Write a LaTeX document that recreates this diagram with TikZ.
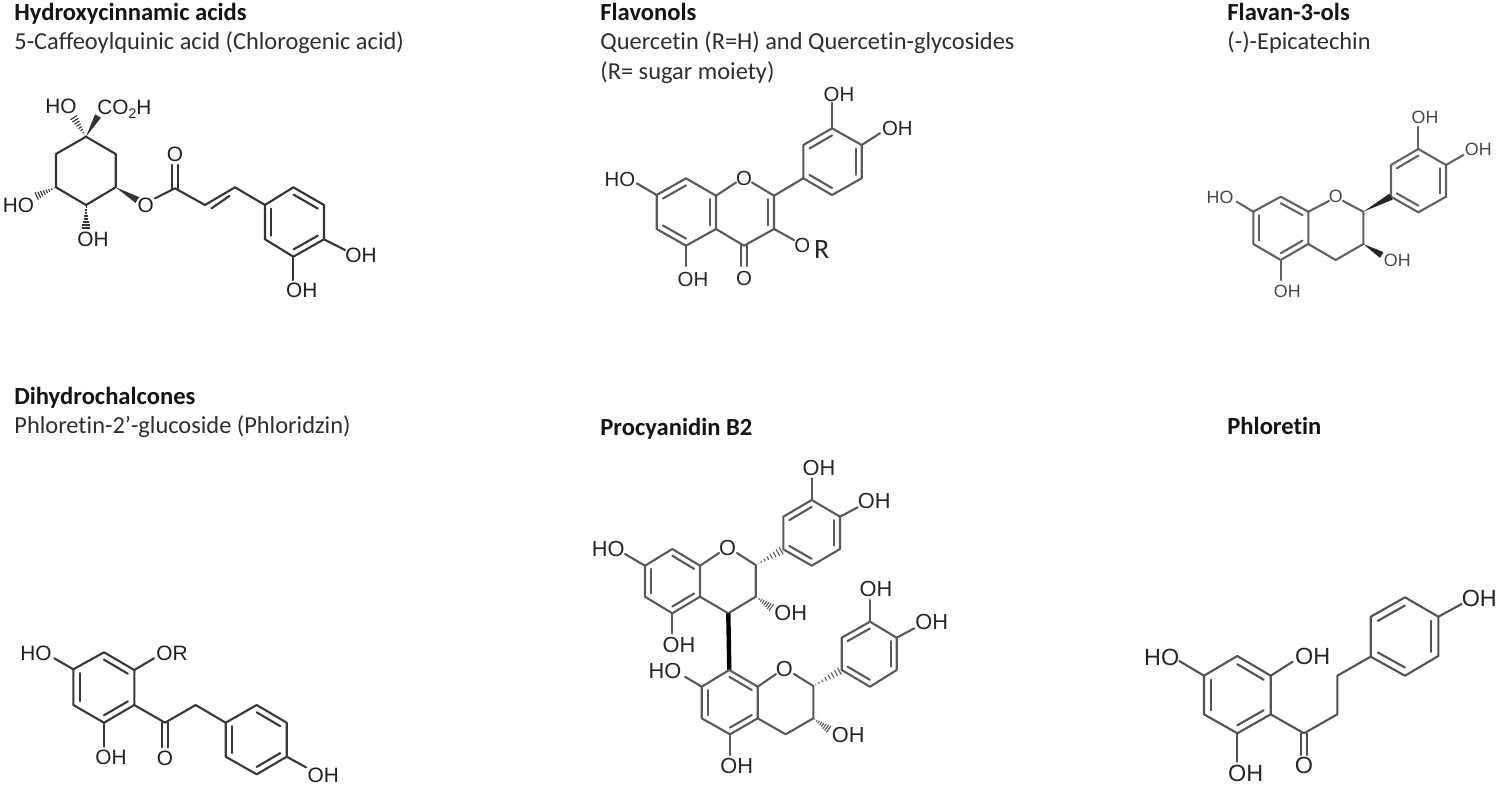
\documentclass[tikz,border=0pt]{standalone}
\usepackage{fontspec}
\setmainfont{Carlito}[Ligatures=NoCommon]
\newfontfamily\chemf{Liberation Sans}
\usetikzlibrary{calc}
\newcommand\labsz{\fontsize{10.4}{12}\selectfont}
\colorlet{bc}{black}
\colorlet{tc}{black}
\tikzset{
  bond/.style={draw=bc,line width=1.05pt,line join=round,line cap=round},
  lab/.style={inner sep=0pt,text depth=0pt,font=\chemf\labsz,text=tc},
  title/.style={inner sep=0pt,anchor=base west,font=\fontsize{12.3}{14}\selectfont\bfseries,text=black!92},
  sub/.style={inner sep=0pt,anchor=base west,font=\fontsize{12.2}{14}\selectfont,text=black!82}
}
\newcommand\pts[1]{\foreach \n/\x/\y in {#1}{\coordinate (\n) at (\x,\y);}}
\newcommand\labs[1]{\foreach \n/\x/\y/\t in {#1}{\node[lab] (\n) at (\x,\y) {\t};}}
\newcommand\bnds[1]{\foreach \a/\b in {#1}{\draw[bond] (\a) -- (\b);}}
\newcommand\dbl[3]{\draw[bond] ($(#1)!.21!(#3)$) -- ($(#2)!.21!(#3)$);}
\newcommand\wdg[2]{\fill[bc] (#1) -- ($(#2)!1.7pt!90:(#1)$) -- ($(#2)!1.7pt!-90:(#1)$) -- cycle;}
\newcommand\hsh[2]{\foreach \t [evaluate=\t as \w using \t*2.2] in {.08,.2,.32,.44,.56,.68,.8,.92}{%
  \coordinate (hp) at ($(#1)!\t!(#2)$);
  \draw[bc,line width=.55pt] ($(hp)!\w pt!90:(#2)$) -- ($(hp)!\w pt!-90:(#2)$);}}
\begin{document}
\begin{tikzpicture}[x=.5pt,y=-.5pt]
\useasboundingbox (0,0) rectangle (1500,787);

% ---- captions
\node[title] (t1) at (14,20) {Hydroxycinnamic acids};
\node[sub] (s1) at (14,49) {5-Caffeoylquinic acid (Chlorogenic acid)};
\node[title] (t2) at (600,20) {Flavonols};
\node[sub] (s2) at (600,49) {Quercetin (R=H) and Quercetin-glycosides};
\node[sub] (s2b) at (600,79) {(R= sugar moiety)};
\node[title] (t3) at (1227,20) {Flavan-3-ols};
\node[sub] (s3) at (1227,49) {(-)-Epicatechin};
\node[title] (t4) at (14,404) {Dihydrochalcones};
\node[sub] (s4) at (14,433) {Phloretin-2’-glucoside (Phloridzin)};
\node[title] (t5) at (600,435) {Procyanidin B2};
\node[title] (t6) at (1227,434) {Phloretin};

% ---- chlorogenic acid
\begin{scope}
\colorlet{bc}{black!80}\colorlet{tc}{black!88}
\pts{a1/86/136.7,a2/115.7/154,a3/115.7/187.3,a4/86/205,a5/56/187.3,a6/56/154,
  w1/98/116,h1/72.7/116,h5/35/196.7,h4/86/230,w3/137.3/200,e1/155/198.3,
  k/175/188.3,ko/175/165,v1/205/205,v2/235/187.3,
  b1/265/205,b2/293.3/187.3,b3/324/205,b4/324/239.3,b5/293.3/256.7,b6/265/239.3,
  bc0/294.5/222,o4/345/250,o5/293.3/280}
\draw[bond] (a1)--(a2)--(a3)--(a4)--(a5)--(a6)--cycle;
\draw[bond] (b1)--(b2)--(b3)--(b4)--(b5)--(b6)--cycle;
\wdg{a1}{w1}\hsh{a1}{h1}\hsh{a5}{h5}\hsh{a4}{h4}\wdg{a3}{w3}
\draw[bond] (e1)--(k)--(v1)--(v2)--(b1);
\draw[bond] ([xshift=-1.5pt]k)--([xshift=-1.5pt]ko);
\draw[bond] ([xshift=1.5pt]k)--([xshift=1.5pt]ko);
\draw[bond] ($(v1)!.15!(v2)+(1pt,-3pt)$)--($(v2)!.15!(v1)+(-.5pt,-3pt)$);
\dbl{b2}{b3}{bc0}\dbl{b4}{b5}{bc0}\dbl{b6}{b1}{bc0}
\bnds{b4/o4,b5/o5}
\labs{l1/61/106.7/HO,l2/18.5/205/HO,l3/93/239/OH,l4/145.7/205/O,l5/175/154/O,l6/361/255.7/OH,l7/301.7/290/OH}
\node[lab,anchor=west] (l8) at (97,107) {CO\raisebox{-.22em}{\fontsize{7}{8}\selectfont 2}H};
\end{scope}

% ---- quercetin
\begin{scope}
\colorlet{bc}{black!65}\colorlet{tc}{black!85}
\renewcommand\labsz{\fontsize{10.2}{12}\selectfont}
\pts{c7/656.7/195,c8/686/178.3,c8a/716/195.7,c4a/716/229,c5/686/245.7,c6/656.7/229,
  ca/686.3/212,oc/744/178.3,c2/774/195.7,c3/774/229,c4/744/245.7,cb/745/212,
  o1e/736/182.5,o1f/752/182.5,
  kk/744/266,o7/636.7/183.3,o5e/686/266,o3e/794/240,
  d1/803.3/178.3,d2/803.3/145,d3/832/128.3,d4/861.7/145,d5/861.7/178.3,d6/832/195,dc/832.5/162,
  o3p/832/103,o4p/880/133.3}
\draw[bond] (c7)--(c8)--(c8a)--(c4a)--(c5)--(c6)--cycle;
\draw[bond] (c8a)--(o1e); \draw[bond] (o1f)--(c2)--(c3)--(c4)--(c4a);
\draw[bond] (d1)--(d2)--(d3)--(d4)--(d5)--(d6)--cycle;
\draw[bond] (c2)--(d1);
\dbl{c7}{c8}{ca}\dbl{c8a}{c4a}{ca}\dbl{c5}{c6}{ca}\dbl{c2}{c3}{cb}
\dbl{d2}{d3}{dc}\dbl{d4}{d5}{dc}\dbl{d6}{d1}{dc}
\draw[bond] ([xshift=-1.5pt]c4)--([xshift=-1.5pt]kk);
\draw[bond] ([xshift=1.5pt]c4)--([xshift=1.5pt]kk);
\bnds{c7/o7,c5/o5e,c3/o3e,d3/o3p,d4/o4p}
\labs{m1/620/179/HO,m2/744/178.3/O,m3/693/279/OH,m4/744/278.3/O,m5/802.3/245.7/O,m7/839/94/OH,m8/897.3/128.3/OH}
\node[inner sep=0pt,font=\fontsize{14}{15}\selectfont,text=tc] (m6) at (821.7,250) {R};
\end{scope}

% ---- epicatechin
\begin{scope}
\colorlet{bc}{black!62}\colorlet{tc}{black!72}
\renewcommand\labsz{\fontsize{8.9}{10}\selectfont}
\pts{e7/1253.3/211.7,e8/1280.7/196.7,e8a/1308.3/211.7,e4a/1308.3/244,e5/1280.7/260,e6/1253.3/244,
  ea/1280.8/228,o1g/1329/201,o1h/1343/201,e2/1363.3/211.7,e3/1363.3/244,e4/1335.7/260,
  f1/1391/196.7,f2/1391/165,f3/1418.3/149,f4/1446/165,f5/1446/196.7,f6/1418.3/212.3,fc/1418.5/180.7,
  oe7/1236.7/201.7,oe5/1280.7/280,oe3/1381.7/255,of3/1418.3/126.7,of4/1463.3/155}
\draw[bond] (e7)--(e8)--(e8a)--(e4a)--(e5)--(e6)--cycle;
\draw[bond] (e8a)--(o1g); \draw[bond] (o1h)--(e2)--(e3)--(e4)--(e4a);
\draw[bond] (f1)--(f2)--(f3)--(f4)--(f5)--(f6)--cycle;
\colorlet{bc}{black!85}\wdg{e2}{f1}\wdg{e3}{oe3}\colorlet{bc}{black!62}
\dbl{e8}{e8a}{ea}\dbl{e7}{e6}{ea}\dbl{e5}{e4a}{ea}
\dbl{f2}{f3}{fc}\dbl{f4}{f5}{fc}\dbl{f6}{f1}{fc}
\bnds{e7/oe7,e5/oe5,f3/of3,f4/of4}
\labs{n1/1220/197.7/HO,n2/1335.7/196.7/O,n3/1287.3/291/OH,n4/1397.3/260/OH,n5/1425/117/OH,n6/1478.3/149.3/OH}
\end{scope}

% ---- phloridzin
\begin{scope}
\colorlet{bc}{black!78}\colorlet{tc}{black!88}
\renewcommand\labsz{\fontsize{10.4}{12}\selectfont}
\pts{p1/73.3/669.3,p2/104/652.3,p3/134.3/670,p4/134.3/705,p5/104/722.7,p6/73.3/705,pc/103.8/687.5,
  q1/225.7/722.7,q2/256.7/705,q3/286.7/722.7,q4/286.7/756.7,q5/256.7/774.3,q6/225.7/756.7,qc/256.2/739.5,
  ko4/165/722.7,oo4/165/747.3,ch2/195.7/705,op1/54.3/658.3,op3/154/658.3,op5/104/746.7,oq4/306/767.3}
\draw[bond] (p1)--(p2)--(p3)--(p4)--(p5)--(p6)--cycle;
\draw[bond] (q1)--(q2)--(q3)--(q4)--(q5)--(q6)--cycle;
\draw[bond] (p4)--(ko4)--(ch2)--(q1);
\dbl{p2}{p3}{pc}\dbl{p4}{p5}{pc}\dbl{p6}{p1}{pc}
\dbl{q2}{q3}{qc}\dbl{q4}{q5}{qc}\dbl{q6}{q1}{qc}
\draw[bond] ([xshift=-1.5pt]ko4)--([xshift=-1.5pt]oo4);
\draw[bond] ([xshift=1.5pt]ko4)--([xshift=1.5pt]oo4);
\bnds{p1/op1,p3/op3,p5/op5,q4/oq4}
\labs{r1/36/653.3/HO,r2/172/653.3/OR,r3/111/757.7/OH,r4/165/758.3/O,r5/323.3/775/OH}
\end{scope}

% ---- procyanidin B2
\begin{scope}
\colorlet{bc}{black!65}\colorlet{tc}{black!85}
\renewcommand\labsz{\fontsize{10.9}{12}\selectfont}
\pts{u7/645/565.7,u8/672.3/549,u8a/700/565.7,u4a/700/596.7,u5/672.3/613.3,u6/645/596.7,ua/672.5/581,
  uoa/719/553,uob/737/553,u2/755.7/565,u3/755.7/596.7,u4/728.3/613.3,
  x1/783.3/549.3,x2/783.3/516.7,x3/811.7/500,x4/840/516.7,x5/840/549,x6/811.7/565.7,xc/811.7/533,
  ou7/625/554,ou5/672.3/633.3,ou3/772.7/608.3,ox3/811.7/478.3,ox4/857.7/507.3,
  v8/729.3/670,v8a/757.7/686.7,v4a/757.7/718.3,v5/730/734.3,v6/701.7/718.3,v7/701.7/686.7,va/729.7/702.5,
  voa/776/674,vob/794/674,v2x/813.3/686,v3x/813.3/718.3,v4x/785.7/734.3,
  y1/841.7/670,y2/841.7/637.7,y3/870/621.7,y4/896.7/637.7,y5/896.7/670,y6/870/686.7,yc/869.5/654,
  ov7/685/676.7,ov5/730/755,ov3/830/730,oy3/870/600,oy4/914.3/628.3}
\draw[bond] (u7)--(u8)--(u8a)--(u4a)--(u5)--(u6)--cycle;
\draw[bond] (u8a)--(uoa); \draw[bond] (uob)--(u2)--(u3)--(u4)--(u4a);
\draw[bond] (x1)--(x2)--(x3)--(x4)--(x5)--(x6)--cycle;
\hsh{u2}{x1}\hsh{u3}{ou3}
\dbl{u8}{u8a}{ua}\dbl{u7}{u6}{ua}\dbl{u5}{u4a}{ua}
\dbl{x2}{x3}{xc}\dbl{x4}{x5}{xc}\dbl{x6}{x1}{xc}
\bnds{u7/ou7,u5/ou5,x3/ox3,x4/ox4}
\draw[black,line width=2.2pt] (u4)--(v8);
\draw[bond] (v8)--(v8a)--(v4a)--(v5)--(v6)--(v7)--cycle;
\draw[bond] (v8a)--(voa); \draw[bond] (vob)--(v2x)--(v3x)--(v4x)--(v4a);
\draw[bond] (y1)--(y2)--(y3)--(y4)--(y5)--(y6)--cycle;
\hsh{v2x}{y1}\hsh{v3x}{ov3}
\dbl{v8}{v8a}{va}\dbl{v7}{v6}{va}\dbl{v5}{v4a}{va}
\dbl{y2}{y3}{yc}\dbl{y4}{y5}{yc}\dbl{y6}{y1}{yc}
\bnds{v7/ov7,v5/ov5,y3/oy3,y4/oy4}
\labs{s1l/608.3/549/HO,s2l/727.7/548.3/O,s3l/679/645/OH,s4l/790.7/613.3/OH,s5l/819/468.3/OH,s6l/874.3/501/OH,
  s7l/665/671/HO,s8l/784.3/669.3/O,s9l/736.7/766/OH,s10l/848.3/735/OH,s11l/876/589.3/OH,s12l/931.7/622.3/OH}
\end{scope}

% ---- phloretin
\begin{scope}
\colorlet{bc}{black!68}\colorlet{tc}{black!85}
\renewcommand\labsz{\fontsize{11.7}{13}\selectfont}
\pts{g1/1204/675.7,g2/1237.3/656,g3/1270.7/675.7,g4/1270.7/714.3,g5/1237.3/733.3,g6/1204/714.3,gc/1237.3/695,
  j1/1370.7/656.7,j2/1370.7/616.7,j3/1405/597.3,j4/1438.3/616.7,j5/1438.3/656,j6/1405/675.7,jc/1404.5/636.5,
  gk/1304/733.3,gko/1304/755,ga/1337.3/714.3,gb/1337.3/675.7,og1/1179.3/661,og3/1292.7/661.7,og5/1237.3/761.7,oj4/1461.7/604}
\draw[bond] (g1)--(g2)--(g3)--(g4)--(g5)--(g6)--cycle;
\draw[bond] (j1)--(j2)--(j3)--(j4)--(j5)--(j6)--cycle;
\draw[bond] (g4)--(gk)--(ga)--(gb)--(j1);
\dbl{g2}{g3}{gc}\dbl{g4}{g5}{gc}\dbl{g6}{g1}{gc}
\dbl{j2}{j3}{jc}\dbl{j4}{j5}{jc}\dbl{j6}{j1}{jc}
\draw[bond] ([xshift=-1.5pt]gk)--([xshift=-1.5pt]gko);
\draw[bond] ([xshift=1.5pt]gk)--([xshift=1.5pt]gko);
\bnds{g1/og1,g3/og3,g5/og5,j4/oj4}
\labs{z1/1161.7/657.3/HO,z2/1312.7/656.7/OH,z3/1245.7/773.3/OH,z4/1304/765.7/O,z5/1479.3/598.3/OH}
\end{scope}
\end{tikzpicture}
\end{document}
